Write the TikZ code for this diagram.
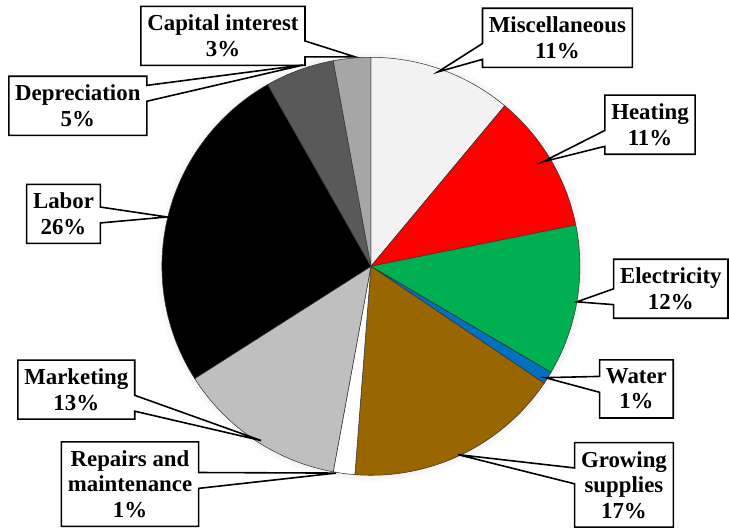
\documentclass[tikz,border=0pt]{standalone}
\usepackage{fontspec}
\setmainfont{Liberation Serif}
\usetikzlibrary{shapes.callouts,shadows}
\definecolor{miscgray}{HTML}{F2F2F2}
\definecolor{heatred}{HTML}{FF0000}
\definecolor{elecgreen}{HTML}{00B050}
\definecolor{waterblue}{HTML}{0070C0}
\definecolor{growbrown}{HTML}{996600}
\definecolor{markgray}{HTML}{BFBFBF}
\definecolor{depgray}{HTML}{595959}
\definecolor{capgray}{HTML}{A6A6A6}
\begin{document}
\begin{tikzpicture}[
        slice/.style={draw=black!80, line width=0.4pt},
        lbl/.style={rectangle callout, draw=black, fill=white, line width=1.2pt,
            align=center, font=\fontsize{17.2}{19.2}\selectfont\bfseries,
            inner xsep=0.17cm, inner ysep=0.23cm, callout pointer width=0.42cm}]
        \useasboundingbox (0,0) rectangle (19.29,13.99);
        \coordinate[] (O) at (9.815,6.944);
        % soft shadow round the pie
        \path[fill=white, circular drop shadow={shadow xshift=0pt, shadow yshift=0pt, shadow scale=1.03, opacity=0.45}] (O) circle (5.53cm);
        % slices, clockwise from the top
        \filldraw[slice, fill=miscgray] (O) -- ++(90:5.53) arc (90:50.2:5.53) -- cycle;
        \filldraw[slice, fill=heatred] (O) -- ++(50.2:5.53) arc (50.2:11.4:5.53) -- cycle;
        \filldraw[slice, fill=elecgreen] (O) -- ++(11.4:5.53) arc (11.4:-30.5:5.53) -- cycle;
        \filldraw[slice, fill=waterblue] (O) -- ++(-30.5:5.53) arc (-30.5:-34:5.53) -- cycle;
        \filldraw[slice, fill=growbrown] (O) -- ++(-34:5.53) arc (-34:-94.4:5.53) -- cycle;
        \filldraw[slice, fill=white] (O) -- ++(-94.4:5.53) arc (-94.4:-100.4:5.53) -- cycle;
        \filldraw[slice, fill=markgray] (O) -- ++(-100.4:5.53) arc (-100.4:-147.5:5.53) -- cycle;
        \filldraw[slice, fill=black] (O) -- ++(-147.5:5.53) arc (-147.5:-240.4:5.53) -- cycle;
        \filldraw[slice, fill=depgray] (O) -- ++(-240.4:5.53) arc (-240.4:-259.6:5.53) -- cycle;
        \filldraw[slice, fill=capgray] (O) -- ++(-259.6:5.53) arc (-259.6:-270:5.53) -- cycle;
        % tips of the callouts
        \path (O) ++(94.4:5.56) coordinate (tcap);
        \path (O) ++(108.6:5.62) coordinate (tdep);
        \path (O) ++(71:5.44) coordinate (tmisc);
        \path (O) ++(31.3:5.32) coordinate (theat);
        \path (O) ++(166.4:5.55) coordinate (tlab);
        \path (O) ++(-9.8:5.53) coordinate (telec);
        \path (O) ++(-32.6:5.47) coordinate (twater);
        \path (O) ++(-65.2:5.49) coordinate (tgrow);
        \path (O) ++(-99.6:5.55) coordinate (trep);
        \path (O) ++(-122.2:5.45) coordinate (tmark);
        % labels
        \node[lbl, callout absolute pointer={(tcap)}] (cap) at (5.90,13.04) {Capital interest\\3\%};
        \node[lbl, callout absolute pointer={(tdep)}] (dep) at (2.06,11.19) {Depreciation\\5\%};
        \node[lbl, callout absolute pointer={(tmisc)}] (misc) at (14.75,12.99) {Miscellaneous\\11\%};
        \node[lbl, callout absolute pointer={(theat)}] (heat) at (17.20,10.69) {Heating\\11\%};
        \node[lbl, callout absolute pointer={(tlab)}] (lab) at (1.68,8.33) {Labor\\26\%};
        \node[lbl, callout absolute pointer={(telec)}] (elec) at (17.75,6.35) {Electricity\\12\%};
        \node[lbl, callout absolute pointer={(twater)}] (water) at (16.84,3.70) {Water\\1\%};
        \node[lbl, callout absolute pointer={(tgrow)}] (grow) at (16.51,1.16) {Growing\\supplies\\17\%};
        \node[lbl, callout absolute pointer={(trep)}] (rep) at (3.44,1.18) {Repairs and\\maintenance\\1\%};
        \node[lbl, callout absolute pointer={(tmark)}] (mark) at (2.02,3.68) {Marketing\\13\%};
    \end{tikzpicture}
\end{document}
